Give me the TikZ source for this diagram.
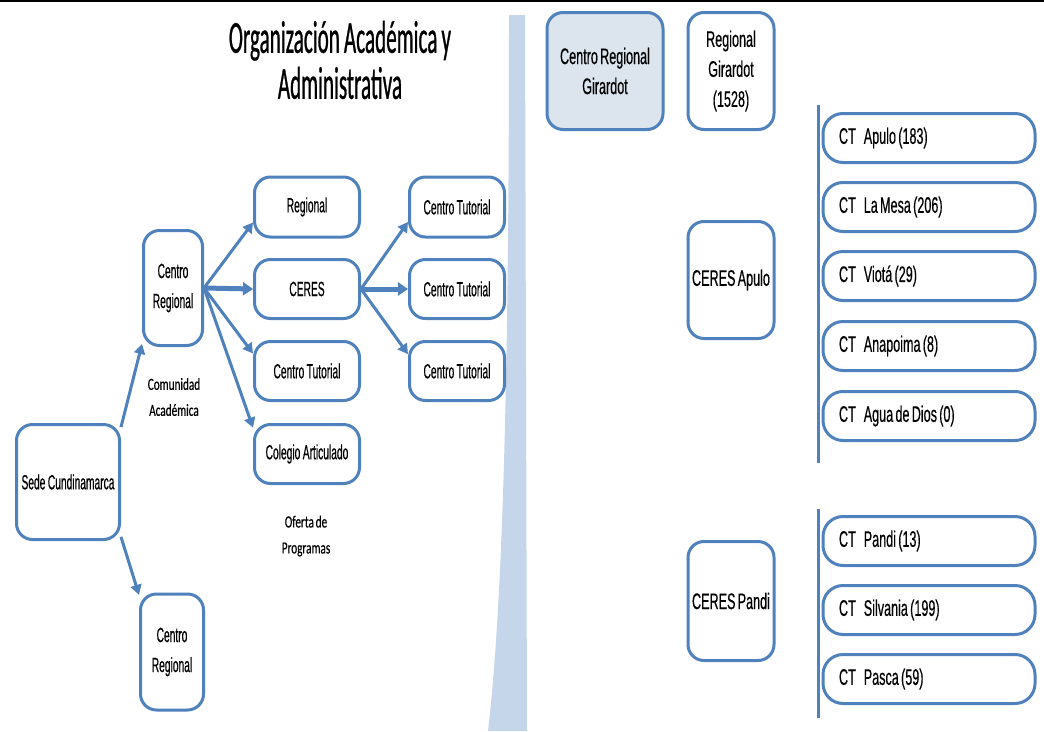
\documentclass[tikz,border=0pt]{standalone}
\usepackage{fontspec}
\setmainfont{Liberation Sans}
\newfontfamily\lfont[FakeStretch=0.5, WordSpace=0.85, FakeBold=0.4]{Liberation Sans}
\newfontfamily\rfont[FakeStretch=0.56, WordSpace=0.65, FakeBold=0.4]{Liberation Sans}
\newfontfamily\tfont[FakeStretch=0.46, WordSpace=0.85, FakeBold=0.6]{Carlito}
\newfontfamily\cfont[FakeStretch=0.66, WordSpace=0.7, FakeBold=0.4]{Carlito}
\newcommand\cttext[1]{\makebox[180pt][l]{#1}}
\usetikzlibrary{arrows.meta}
\definecolor{bluec}{HTML}{4F81BD}
\definecolor{bandc}{HTML}{C6D6EA}
\definecolor{girfill}{HTML}{DCE4EE}
\begin{document}
\begin{tikzpicture}[x=1pt,y=-1pt,
  box/.style={draw=bluec, line width=3pt, rounded corners=16pt, fill=white, inner sep=0pt, align=center, font=\lfont\fontsize{20.5}{30}\selectfont},
  rbox/.style={box, font=\rfont\fontsize{22.5}{30}\selectfont},
  ctbox/.style={rbox, rounded corners=20pt, minimum width=212pt, minimum height=49pt, inner xsep=16pt},
  arr/.style={draw=bluec, line width=3pt, -{Triangle[length=10pt,width=11pt]}},
  arrbold/.style={draw=bluec, line width=5pt, -{Triangle[length=10pt,width=13pt]}},
  lbl/.style={align=center, font=\cfont\fontsize{17}{26}\selectfont},
  vline/.style={draw=bluec, line width=3pt},
]
\useasboundingbox (0,0) rectangle (1044,731);
\fill[white] (0,0) rectangle (1044,731);
% background band
\fill[bandc] (509,15) -- (525,15) -- (527,731) -- (488,731) .. controls (501,620) and (509,420) .. (509,15) -- cycle;
\fill[black] (0,0) rectangle (1044,2);

% title
\node[align=center, font=\tfont\fontsize{46}{46}\selectfont] (title) at (340,60) {Organización Académica y\\Administrativa};

% left panel
\node[box, minimum width=103pt, minimum height=115pt] (sede) at (68,482) {Sede Cundinamarca};
\node[box, minimum width=59pt, minimum height=115pt] (cr1) at (173,288) {Centro\\Regional};
\node[box, minimum width=63pt, minimum height=116pt] (cr2) at (172,652) {Centro\\Regional};
\node[box, minimum width=105pt, minimum height=60pt] (reg) at (307,207) {Regional};
\node[box, minimum width=105pt, minimum height=59pt] (ceres) at (307,289) {CERES};
\node[box, minimum width=105pt, minimum height=59pt] (ctm) at (307,371) {Centro Tutorial};
\node[box, minimum width=105pt, minimum height=59pt] (col) at (307,454) {Colegio Articulado};
\node[box, minimum width=95pt, minimum height=60pt] (ct1) at (457,207) {Centro Tutorial};
\node[box, minimum width=95pt, minimum height=59pt] (ct2) at (457,289) {Centro Tutorial};
\node[box, minimum width=95pt, minimum height=59pt] (ct3) at (457,371) {Centro Tutorial};

\node[lbl] (comu) at (174,397) {Comunidad\\Académica};
\node[lbl] (ofer) at (306,536) {Oferta de\\Programas};

\draw[arr] (sede.46) -- (cr1.241);
\draw[arr] (sede.-46) -- (cr2.120);
\draw[arr] (cr1.east) -- (reg.196);
\draw[arrbold] (cr1.east) -- (ceres.west);
\draw[arr] (cr1.east) -- (ctm.162);
\draw[arr] (cr1.east) -- (col.154);
\draw[arr] (ceres.east) -- (ct1.197);
\draw[arrbold] (ceres.east) -- (ct2.west);
\draw[arr] (ceres.east) -- (ct3.161);

% right panel
\node[rbox, fill=girfill, minimum width=116pt, minimum height=117pt] (gir) at (605,71) {Centro Regional\\Girardot};
\node[rbox, minimum width=86pt, minimum height=117pt] (rgir) at (731,71) {Regional\\Girardot\\(1528)};
\node[rbox, minimum width=86pt, minimum height=117pt] (capulo) at (731,280) {CERES Apulo};
\node[rbox, minimum width=86pt, minimum height=119pt] (cpandi) at (731,601) {CERES Pandi};

\coordinate (la1) at (818,105);
\coordinate (la2) at (818,463);
\coordinate (lb1) at (818,509);
\coordinate (lb2) at (818,718);
\draw[vline] (la1) -- (la2);
\draw[vline] (lb1) -- (lb2);

\node[ctbox] (apulo) at (929,138) {\cttext{CT\hspace{8pt}Apulo (183)}};
\node[ctbox] (mesa) at (929,207) {\cttext{CT\hspace{8pt}La Mesa (206)}};
\node[ctbox] (viota) at (929,276) {\cttext{CT\hspace{8pt}Viotá (29)}};
\node[ctbox] (anap) at (929,346) {\cttext{CT\hspace{8pt}Anapoima (8)}};
\node[ctbox] (agua) at (929,416) {\cttext{CT\hspace{8pt}Agua de Dios (0)}};
\node[ctbox] (pandi) at (929,541) {\cttext{CT\hspace{8pt}Pandi (13)}};
\node[ctbox] (silv) at (929,610) {\cttext{CT\hspace{8pt}Silvania (199)}};
\node[ctbox] (pasca) at (929,679) {\cttext{CT\hspace{8pt}Pasca (59)}};
\end{tikzpicture}
\end{document}
